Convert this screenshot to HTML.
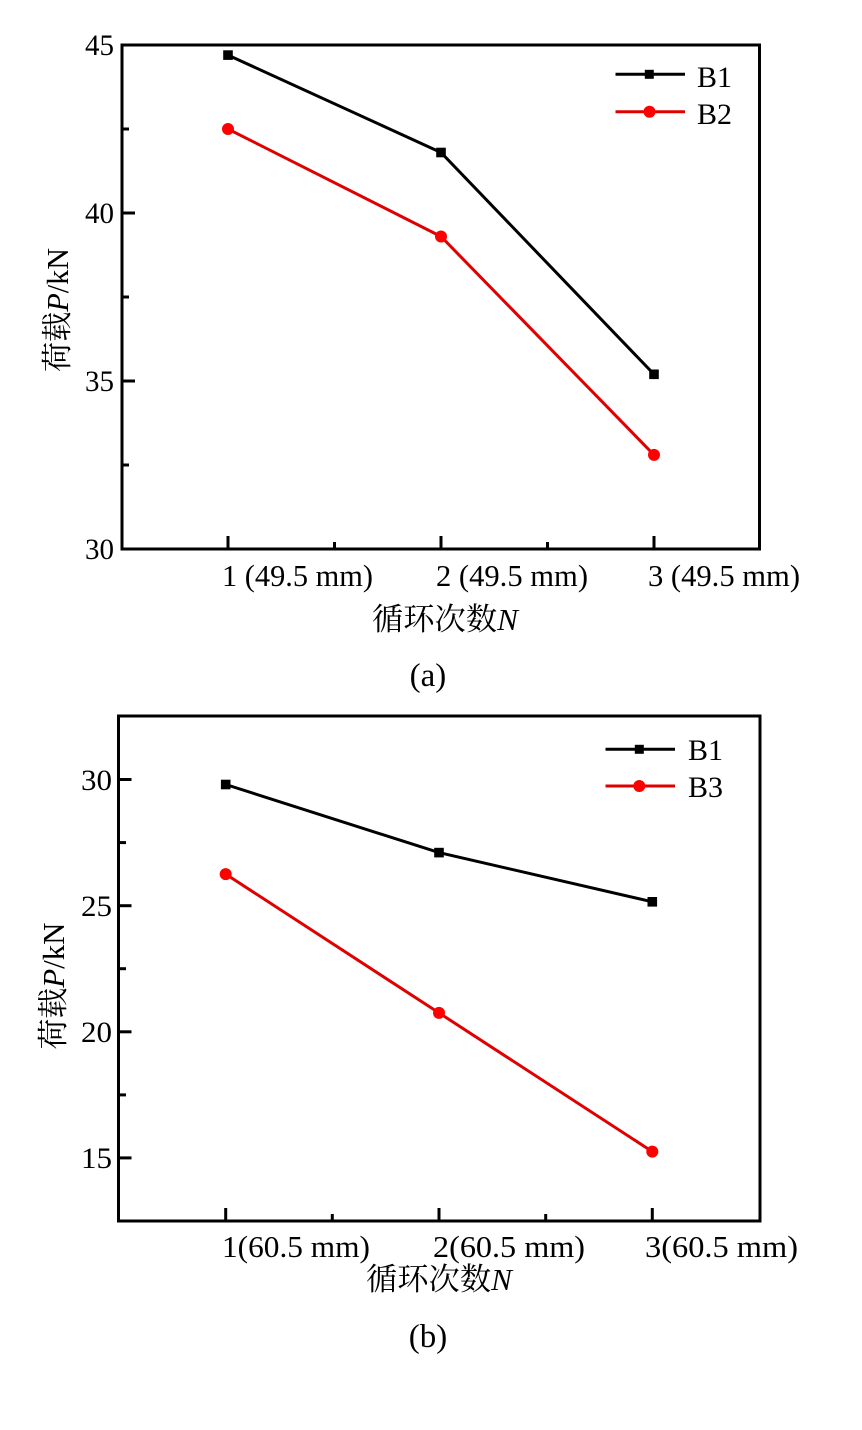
<!DOCTYPE html>
<html>
<head>
<meta charset="utf-8">
<style>
html,body{margin:0;padding:0;background:#fff;}
svg{display:block;}
text{font-family:"Liberation Serif","Noto Serif CJK SC",serif;fill:#000;}
</style>
</head>
<body>
<svg width="862" height="1430" viewBox="0 0 862 1430" xmlns="http://www.w3.org/2000/svg">
<rect width="862" height="1430" fill="#fff"/>

<!-- ================= Chart (a) ================= -->
<g stroke="#000" stroke-width="3" fill="none">
  <rect x="122" y="45" width="637.5" height="504"/>
  <line x1="122" y1="45" x2="135" y2="45"/>
  <line x1="122" y1="213" x2="135" y2="213"/>
  <line x1="122" y1="381" x2="135" y2="381"/>
  <line x1="122" y1="549" x2="135" y2="549"/>
  <line x1="122" y1="129" x2="129" y2="129"/>
  <line x1="122" y1="297" x2="129" y2="297"/>
  <line x1="122" y1="465" x2="129" y2="465"/>
  <line x1="228" y1="549" x2="228" y2="536"/>
  <line x1="441" y1="549" x2="441" y2="536"/>
  <line x1="654" y1="549" x2="654" y2="536"/>
  <line x1="334.5" y1="549" x2="334.5" y2="542"/>
  <line x1="547.5" y1="549" x2="547.5" y2="542"/>
</g>
<g font-size="30" text-anchor="end">
  <text x="114" y="55" textLength="29" lengthAdjust="spacingAndGlyphs">45</text>
  <text x="114" y="223" textLength="29" lengthAdjust="spacingAndGlyphs">40</text>
  <text x="114" y="391" textLength="29" lengthAdjust="spacingAndGlyphs">35</text>
  <text x="114" y="559" textLength="29" lengthAdjust="spacingAndGlyphs">30</text>
</g>
<g font-size="31">
  <text x="222" y="586" textLength="151" lengthAdjust="spacingAndGlyphs">1 (49.5 mm)</text>
  <text x="436" y="586" textLength="152" lengthAdjust="spacingAndGlyphs">2 (49.5 mm)</text>
  <text x="648" y="586" textLength="152" lengthAdjust="spacingAndGlyphs">3 (49.5 mm)</text>
</g>
<text x="372" y="630" font-size="31" textLength="146" lengthAdjust="spacingAndGlyphs">循环次数<tspan font-style="italic">N</tspan></text>
<text transform="translate(68,310) rotate(-90)" font-size="31" text-anchor="middle" textLength="124" lengthAdjust="spacingAndGlyphs">荷载<tspan font-style="italic">P</tspan>/kN</text>
<text x="428" y="686" font-size="33" text-anchor="middle">(a)</text>

<polyline points="228,55.1 441,152.5 654,374.3" fill="none" stroke="#000" stroke-width="3"/>
<polyline points="228,129 441,236.5 654,454.9" fill="none" stroke="#e00000" stroke-width="3"/>
<g fill="#000">
  <rect x="223.2" y="50.3" width="9.6" height="9.6"/>
  <rect x="436.2" y="147.7" width="9.6" height="9.6"/>
  <rect x="649.2" y="369.5" width="9.6" height="9.6"/>
</g>
<g fill="#ff0000">
  <circle cx="228" cy="129" r="6"/>
  <circle cx="441" cy="236.5" r="6"/>
  <circle cx="654" cy="454.9" r="6"/>
</g>
<line x1="615.5" y1="74.3" x2="685" y2="74.3" stroke="#000" stroke-width="3"/>
<rect x="644.8" y="69.8" width="9" height="9" fill="#000"/>
<line x1="615.5" y1="111.7" x2="685" y2="111.7" stroke="#e00000" stroke-width="3"/>
<circle cx="649.5" cy="111.7" r="6" fill="#ff0000"/>
<text x="697" y="87" font-size="30">B1</text>
<text x="697" y="124" font-size="30">B2</text>

<!-- ================= Chart (b) ================= -->
<g stroke="#000" stroke-width="3" fill="none">
  <rect x="118.5" y="716" width="641.5" height="505"/>
  <line x1="118.5" y1="779.5" x2="131.5" y2="779.5"/>
  <line x1="118.5" y1="905.7" x2="131.5" y2="905.7"/>
  <line x1="118.5" y1="1031.8" x2="131.5" y2="1031.8"/>
  <line x1="118.5" y1="1157.9" x2="131.5" y2="1157.9"/>
  <line x1="118.5" y1="842.6" x2="126" y2="842.6"/>
  <line x1="118.5" y1="968.7" x2="126" y2="968.7"/>
  <line x1="118.5" y1="1094.9" x2="126" y2="1094.9"/>
  <line x1="225.7" y1="1221" x2="225.7" y2="1208"/>
  <line x1="439" y1="1221" x2="439" y2="1208"/>
  <line x1="652.3" y1="1221" x2="652.3" y2="1208"/>
  <line x1="332.3" y1="1221" x2="332.3" y2="1214"/>
  <line x1="545.7" y1="1221" x2="545.7" y2="1214"/>
</g>
<g font-size="30" text-anchor="end">
  <text x="112" y="790" textLength="31" lengthAdjust="spacingAndGlyphs">30</text>
  <text x="112" y="916" textLength="31" lengthAdjust="spacingAndGlyphs">25</text>
  <text x="112" y="1042" textLength="31" lengthAdjust="spacingAndGlyphs">20</text>
  <text x="112" y="1168" textLength="31" lengthAdjust="spacingAndGlyphs">15</text>
</g>
<g font-size="31">
  <text x="222" y="1257" textLength="148" lengthAdjust="spacingAndGlyphs">1(60.5 mm)</text>
  <text x="433" y="1257" textLength="152" lengthAdjust="spacingAndGlyphs">2(60.5 mm)</text>
  <text x="645" y="1257" textLength="153" lengthAdjust="spacingAndGlyphs">3(60.5 mm)</text>
</g>
<text x="366" y="1290" font-size="31" textLength="146" lengthAdjust="spacingAndGlyphs">循环次数<tspan font-style="italic">N</tspan></text>
<text transform="translate(64,986) rotate(-90)" font-size="31" text-anchor="middle" textLength="127" lengthAdjust="spacingAndGlyphs">荷载<tspan font-style="italic">P</tspan>/kN</text>
<text x="428" y="1347" font-size="33" text-anchor="middle">(b)</text>

<polyline points="225.7,784.5 439,852.6 652.3,901.8" fill="none" stroke="#000" stroke-width="3"/>
<polyline points="225.7,874.1 439,1012.9 652.3,1151.6" fill="none" stroke="#e00000" stroke-width="3"/>
<g fill="#000">
  <rect x="220.9" y="779.7" width="9.6" height="9.6"/>
  <rect x="434.2" y="847.8" width="9.6" height="9.6"/>
  <rect x="647.5" y="897" width="9.6" height="9.6"/>
</g>
<g fill="#ff0000">
  <circle cx="225.7" cy="874.1" r="6"/>
  <circle cx="439" cy="1012.9" r="6"/>
  <circle cx="652.3" cy="1151.6" r="6"/>
</g>
<line x1="605.5" y1="749.3" x2="675" y2="749.3" stroke="#000" stroke-width="3"/>
<rect x="634.8" y="744.8" width="9" height="9" fill="#000"/>
<line x1="605.5" y1="786" x2="675" y2="786" stroke="#e00000" stroke-width="3"/>
<circle cx="639.3" cy="786" r="6" fill="#ff0000"/>
<text x="688" y="760" font-size="30">B1</text>
<text x="688" y="797" font-size="30">B3</text>
</svg>
</body>
</html>
